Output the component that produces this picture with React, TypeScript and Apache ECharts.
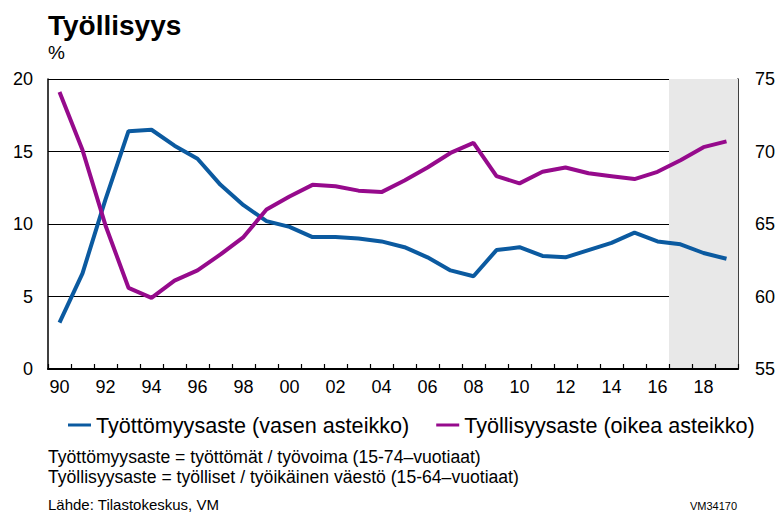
import React, { useEffect, useRef } from "react";
import * as echarts from "echarts";

const years = [
  "1990","1991","1992","1993","1994","1995","1996","1997","1998","1999",
  "2000","2001","2002","2003","2004","2005","2006","2007","2008","2009",
  "2010","2011","2012","2013","2014","2015","2016","2017","2018","2019",
];
const unemployment = [
  3.2, 6.6, 11.7, 16.4, 16.5, 15.4, 14.5, 12.7, 11.3, 10.2,
  9.8, 9.1, 9.1, 9.0, 8.8, 8.4, 7.7, 6.8, 6.4, 8.2,
  8.4, 7.8, 7.7, 8.2, 8.7, 9.4, 8.8, 8.6, 8.0, 7.6,
];
const employment = [
  74.1, 70.1, 64.9, 60.6, 59.9, 61.1, 61.8, 62.9, 64.1, 66.0,
  66.9, 67.7, 67.6, 67.3, 67.2, 68.0, 68.9, 69.9, 70.6, 68.3,
  67.8, 68.6, 68.9, 68.5, 68.3, 68.1, 68.6, 69.4, 70.3, 70.7,
];
const forecastStartIndex = 27;

const FONT = "'Liberation Sans', Arial, sans-serif";

export default function App() {
  const ref = useRef<HTMLDivElement>(null);
  useEffect(() => {
    if (!ref.current) return;
    const chart = echarts.init(ref.current, null, { renderer: "svg" });
    chart.setOption({
      animation: false,
      backgroundColor: "#ffffff",
      textStyle: { fontFamily: FONT },
      grid: { left: 48, right: 42, top: 79, bottom: 144, containLabel: false },
      graphic: [
        { type: "text", left: 48, top: 11, style: { text: "Työllisyys", font: `bold 28px ${FONT}`, fill: "#000" } },
        { type: "text", left: 48, top: 43, style: { text: "%", font: `19px ${FONT}`, fill: "#000" } },
        { type: "text", left: 48, top: 448, style: { text: "Työttömyysaste = työttömät / työvoima (15-74–vuotiaat)", font: `17.6px ${FONT}`, fill: "#000" } },
        { type: "text", left: 48, top: 468, style: { text: "Työllisyysaste = työlliset / työikäinen väestö (15-64–vuotiaat)", font: `17.6px ${FONT}`, fill: "#000" } },
        { type: "text", left: 48, top: 497, style: { text: "Lähde: Tilastokeskus, VM", font: `15px ${FONT}`, fill: "#000" } },
        { type: "text", left: 690, top: 500, style: { text: "VM34170", font: `11px ${FONT}`, fill: "#000" } },
      ],
      legend: {
        left: 63,
        top: 409,
        itemWidth: 23,
        itemHeight: 3,
        itemGap: 27,
        icon: "rect",
        textStyle: { fontFamily: FONT, fontSize: 21.6, color: "#000" },
        data: ["Työttömyysaste (vasen asteikko)", "Työllisyysaste (oikea asteikko)"],
      },
      xAxis: [
        {
          type: "category",
          data: years,
          boundaryGap: true,
          axisLine: { show: true, lineStyle: { color: "#000", width: 2 } },
          axisTick: { show: true, inside: true, length: 5, interval: 0, lineStyle: { color: "#000", width: 1.2 } },
          axisLabel: {
            interval: 1,
            margin: 9,
            fontFamily: FONT,
            fontSize: 18,
            color: "#000",
            formatter: (v: string) => v.slice(2),
          },
          splitLine: { show: false },
          z: 5,
        },
        {
          type: "value",
          min: 0,
          max: years.length,
          show: false,
          splitLine: { show: false },
        },
      ],
      yAxis: [
        {
          type: "value",
          min: 0,
          max: 20,
          interval: 5,
          position: "left",
          axisLine: { show: true, lineStyle: { color: "#000", width: 1.5 } },
          axisTick: { show: false },
          axisLabel: { margin: 15, fontSize: 18, color: "#000", fontFamily: FONT },
          splitLine: { show: true, lineStyle: { color: "#000", width: 1 } },
        },
        {
          type: "value",
          min: 55,
          max: 75,
          interval: 5,
          position: "right",
          axisLine: { show: true, lineStyle: { color: "#000", width: 1.5 } },
          axisTick: { show: false },
          axisLabel: { margin: 17, fontSize: 18, color: "#000", fontFamily: FONT },
          splitLine: { show: false },
        },
      ],
      series: [
        {
          name: "forecast",
          type: "line",
          xAxisIndex: 1,
          yAxisIndex: 0,
          data: [],
          silent: true,
          z: 0,
          markArea: {
            silent: true,
            itemStyle: { color: "#e8e8e8" },
            data: [[{ xAxis: forecastStartIndex }, { xAxis: years.length }]],
          },
        },
        {
          name: "Työttömyysaste (vasen asteikko)",
          type: "line",
          xAxisIndex: 0,
          yAxisIndex: 0,
          data: unemployment,
          symbol: "none",
          color: "#0b5aa0",
          lineStyle: { width: 4, color: "#0b5aa0" },
          z: 3,
        },
        {
          name: "Työllisyysaste (oikea asteikko)",
          type: "line",
          xAxisIndex: 0,
          yAxisIndex: 1,
          data: employment,
          symbol: "none",
          color: "#960a8c",
          lineStyle: { width: 4, color: "#960a8c" },
          z: 3,
        },
      ],
    });
    return () => chart.dispose();
  }, []);
  return <div ref={ref} style={{ width: 780, height: 513, position: "absolute", left: 0, top: 0 }} />;
}
